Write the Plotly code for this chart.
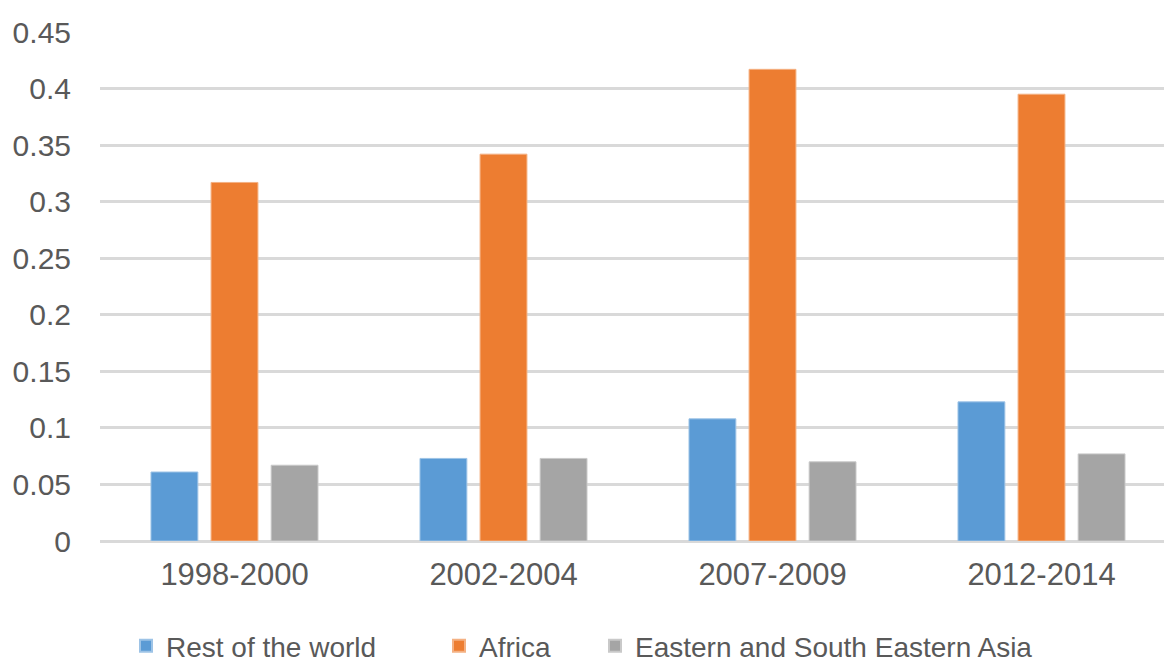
import plotly.graph_objects as go

categories = ["1998-2000", "2002-2004", "2007-2009", "2012-2014"]
rest_of_world = [0.061, 0.073, 0.108, 0.123]
africa = [0.317, 0.342, 0.417, 0.395]
east_se_asia = [0.067, 0.073, 0.070, 0.077]

series_names = ["Rest of the world", "Africa", "Eastern and South Eastern Asia"]
colors = ["#5B9BD5", "#ED7D31", "#A5A5A5"]
edge_colors = ["#9DC3E6", "#F4B183", "#C9C9C9"]
legends = ["legend", "legend2", "legend3"]

fig = go.Figure()
for name, vals, c, ec, lg in zip(series_names, [rest_of_world, africa, east_se_asia], colors, edge_colors, legends):
    fig.add_trace(go.Bar(x=categories, y=vals, name=name, marker=dict(color=c, line=dict(color=ec, width=1)),
                         legend=lg, showlegend=True))

W, H = 1164, 664
ml, mr, mt, mb = 100, 0, 32, 123
pw = W - ml - mr
ph = H - mt - mb

def px_x(p):
    return (p - ml) / pw

leg_y = (H - mb - 646) / ph
legfont = dict(family="Liberation Sans, Arial, sans-serif", size=28, color="#595959")
common = dict(orientation="h", yanchor="middle", xanchor="left", y=leg_y, font=legfont,
              bgcolor="rgba(0,0,0,0)", itemsizing="constant", visible=True)

fig.update_layout(
    width=W, height=H,
    showlegend=True,
    margin=dict(l=ml, r=mr, t=mt, b=mb, autoexpand=False),
    paper_bgcolor="white", plot_bgcolor="white",
    barmode="group", bargap=0.33, bargroupgap=0.22,
    font=dict(family="Liberation Sans, Arial, sans-serif", size=30, color="#595959"),
    legend=dict(x=px_x(126), **common),
    legend2=dict(x=px_x(439), **common),
    legend3=dict(x=px_x(595), **common),
    xaxis=dict(range=[-0.5, -0.5 + pw / 269.0], showgrid=False, showline=False, zeroline=False,
               ticks="", ticklabelstandoff=12, tickfont=dict(size=31, color="#595959")),
    yaxis=dict(range=[0, 0.45], dtick=0.05, tick0=0, showgrid=True, gridcolor="#D9D9D9", gridwidth=2.5,
               zeroline=True, zerolinecolor="#D9D9D9", zerolinewidth=2.5, showline=False, ticks="",
               ticklabelstandoff=28, tickfont=dict(size=30, color="#595959")),
)

fig.write_html("out.html")
